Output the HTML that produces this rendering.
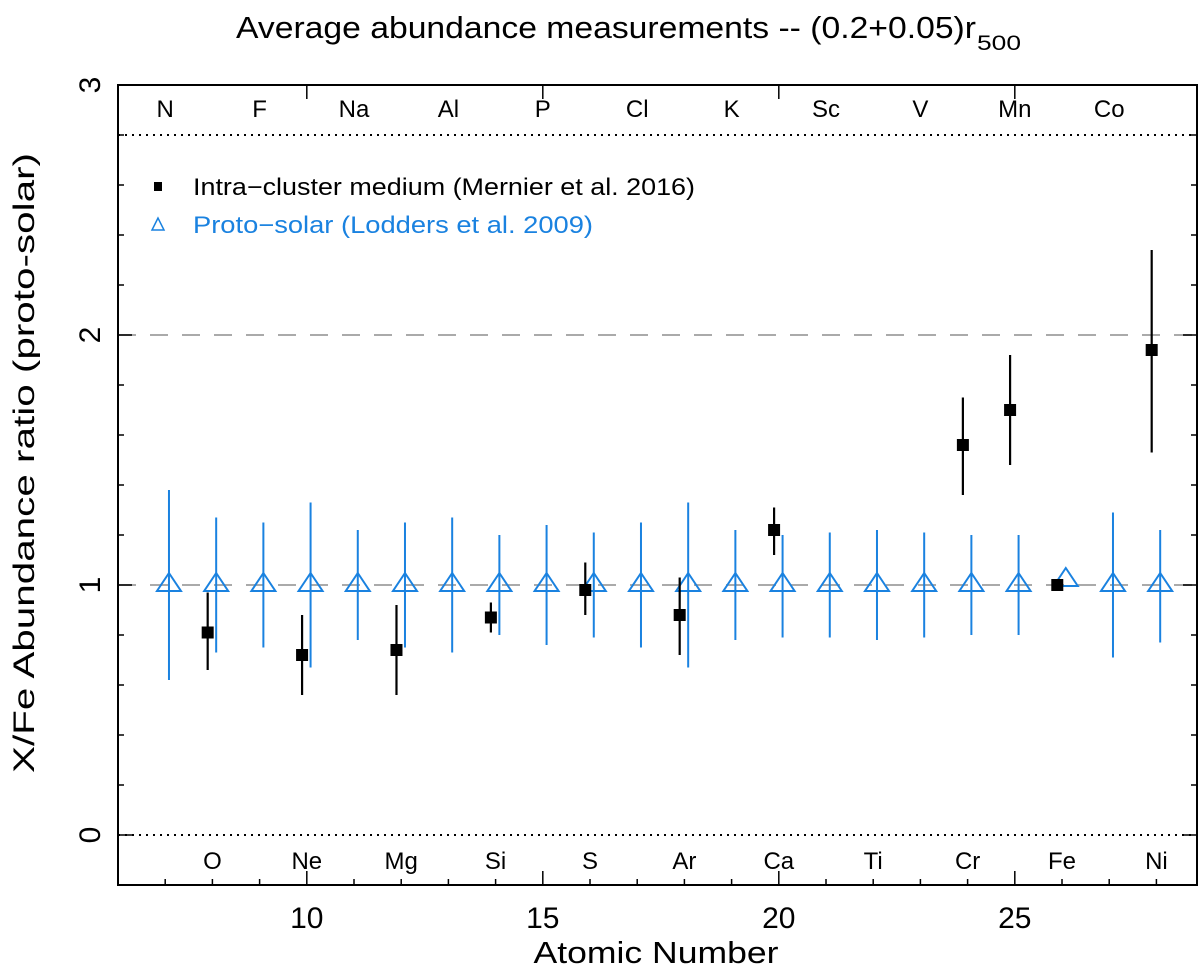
<!DOCTYPE html>
<html><head><meta charset="utf-8"><style>
html,body{margin:0;padding:0;background:#fff;}
svg{display:block;font-family:"Liberation Sans",sans-serif;}
</style></head><body>
<svg id="chart" width="1200" height="970" viewBox="0 0 1200 970" xmlns="http://www.w3.org/2000/svg">
<text x="236" y="38" font-size="31" textLength="740" lengthAdjust="spacingAndGlyphs">Average abundance measurements -- (0.2+0.05)r</text>
<text x="977" y="50" font-size="21" textLength="44" lengthAdjust="spacingAndGlyphs">500</text>
<text transform="translate(34,463) rotate(-90)" font-size="30" text-anchor="middle" textLength="620" lengthAdjust="spacingAndGlyphs">X/Fe Abundance ratio (proto-solar)</text>
<text x="656" y="963" font-size="31" text-anchor="middle" textLength="245" lengthAdjust="spacingAndGlyphs">Atomic Number</text>
<g id="grid"></g><g id="axes"></g><g id="marks"></g>
<g>
<rect x="154" y="182" width="8" height="9" fill="#000"/>
<text x="193" y="195" font-size="24" textLength="502" lengthAdjust="spacingAndGlyphs">Intra−cluster medium (Mernier et al. 2016)</text>
<path d="M158,218 L152,230 L164,230 Z" fill="none" stroke="#1a82e0" stroke-width="1.5"/>
<text x="193" y="233" font-size="24" fill="#1a82e0" textLength="400" lengthAdjust="spacingAndGlyphs">Proto−solar (Lodders et al. 2009)</text>
</g>
</svg>
<script>
const elements=["N","O","F","Ne","Na","Mg","Al","Si","P","S","Cl","Ar","K","Ca","Sc","Ti","V","Cr","Mn","Fe","Co","Ni"];
const atomicNumbers=[7,8,9,10,11,12,13,14,15,16,17,18,19,20,21,22,23,24,25,26,27,28];
const solarValues=[1,1,1,1,1,1,1,1,1,1,1,1,1,1,1,1,1,1,1,1.02,1,1];
const solarHigh=[1.38,1.27,1.25,1.33,1.22,1.25,1.27,1.2,1.24,1.21,1.25,1.33,1.22,1.2,1.21,1.22,1.21,1.2,1.2,null,1.29,1.22];
const solarLow=[0.62,0.73,0.75,0.67,0.78,0.75,0.73,0.8,0.76,0.79,0.75,0.67,0.78,0.79,0.79,0.78,0.79,0.8,0.8,null,0.71,0.77];
const icmZ=[8,10,12,14,16,18,20,24,25,26,28];
const icmValues=[0.81,0.72,0.74,0.87,0.98,0.88,1.22,1.56,1.7,1.0,1.94];
const icmHigh=[0.97,0.88,0.92,0.93,1.09,1.03,1.31,1.75,1.92,null,2.34];
const icmLow=[0.66,0.56,0.56,0.81,0.88,0.72,1.12,1.36,1.48,null,1.53];
const xTicks=[10,15,20,25];
const yTicks=[0,1,2,3];

const L=118,R=1197,T=85,B=885;
const xMin=6,xMax=28.86,yMin=-0.2,yMax=3;
const X=v=>L+(v-xMin)/(xMax-xMin)*(R-L);
const Y=v=>B-(v-yMin)/(yMax-yMin)*(B-T);
const NS="http://www.w3.org/2000/svg";
function mk(tag,attrs,parent,txt){const e=document.createElementNS(NS,tag);for(const k in attrs)e.setAttribute(k,attrs[k]);if(txt!==undefined)e.textContent=txt;parent.appendChild(e);return e;}
const grid=document.getElementById('grid'),axes=document.getElementById('axes'),marks=document.getElementById('marks');

let e;
e=mk('line',{x1:L,x2:R,y1:Y(1),y2:Y(1),stroke:'#aaa','stroke-width':2,'stroke-dasharray':'18,14'},grid);


e=mk('line',{x1:L,x2:R,y1:Y(2),y2:Y(2),stroke:'#aaa','stroke-width':2,'stroke-dasharray':'18,14'},grid);


e=mk('line',{x1:L,x2:R,y1:Y(0),y2:Y(0),stroke:'#000','stroke-width':2,'stroke-dasharray':'2,5'},grid);


e=mk('line',{x1:L,x2:R,y1:Y(2.8),y2:Y(2.8),stroke:'#000','stroke-width':2,'stroke-dasharray':'2,5'},grid);



e=mk('rect',{x:L,y:T,width:R-L,height:B-T,fill:'none',stroke:'#000','stroke-width':2},axes);


for(let z=7;z<=28;z++){
  const major=z%5===0;
  e=mk('line',{x1:X(z),x2:X(z),y1:B,y2:B-(major?14:6),stroke:'#000','stroke-width':1.5},axes);
  
  
  if(major){
    e=mk('line',{x1:X(z),x2:X(z),y1:T,y2:T+14,stroke:'#000','stroke-width':1.5},axes);
    
    
  }
}
xTicks.forEach(v=>{
  e=mk('text',{x:X(v),y:B+43,'font-size':30,'text-anchor':'middle'},axes,String(v));
  
  
});
for(let i=-1;i<=15;i++){
  const v=i*0.2;const major=i%5===0;
  [[L,1],[R,-1]].forEach(([x0,d])=>{
    e=mk('line',{x1:x0,x2:x0+d*(major?14:6),y1:Y(v),y2:Y(v),stroke:'#000','stroke-width':1.5},axes);
    
    
  });
}
yTicks.forEach(v=>{
  e=mk('text',{transform:`translate(${L-18},${Y(v)}) rotate(-90)`,'font-size':30,'text-anchor':'middle'},axes,String(v));
  
  
});
elements.forEach((s,i)=>{
  const z=atomicNumbers[i];const top=z%2===1;
  e=mk('text',{x:X(z),y:top?117:869,'font-size':24,'text-anchor':'middle'},axes,s);
  
  
});

const blue='#1a82e0';
atomicNumbers.forEach((z,i)=>{
  const x=X(z+0.08);
  if(solarHigh[i]!==null){
    e=mk('line',{x1:x,x2:x,y1:Y(solarHigh[i]),y2:Y(solarLow[i]),stroke:blue,'stroke-width':2},marks);
    
    
  }
  const y=Y(solarValues[i]);
  e=mk('path',{d:`M${x},${y-12} L${x-12},${y+6} L${x+12},${y+6} Z`,fill:'none',stroke:blue,'stroke-width':2},marks);
  
  
});
icmZ.forEach((z,i)=>{
  const x=X(z-0.1);
  if(icmHigh[i]!==null){
    e=mk('line',{x1:x,x2:x,y1:Y(icmHigh[i]),y2:Y(icmLow[i]),stroke:'#000','stroke-width':2.2},marks);
    
    
  }
  const y=Y(icmValues[i]);
  e=mk('rect',{x:x-6,y:y-6,width:12,height:12,fill:'#000'},marks);
  
  
});
</script>
</body></html>
